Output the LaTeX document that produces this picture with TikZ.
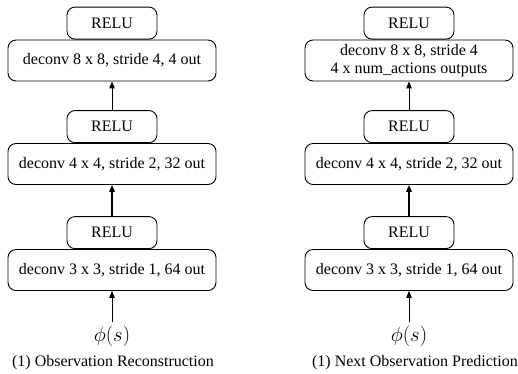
\documentclass[tikz,border=0pt]{standalone}
\usepackage[no-math]{fontspec}
\setmainfont{Liberation Serif}
\usetikzlibrary{arrows.meta}
\tikzset{
  box/.style={draw, line width=0.9pt, rounded corners=8pt, inner sep=0pt, align=center,
    font=\fontsize{16}{18}\selectfont},
  relubox/.style={box, minimum width=90pt, minimum height=32pt},
  convbox/.style={box, minimum width=208pt, minimum height=41pt},
  flow/.style={-{Triangle[length=7pt,width=5.5pt]}, line width=1pt},
  thickflow/.style={flow, line width=1.6pt},
  caption/.style={font=\fontsize{16}{18}\selectfont, inner sep=0pt},
  phinode/.style={font=\fontsize{20}{22}\selectfont, inner sep=3pt}
}
\begin{document}
\begin{tikzpicture}[x=1pt,y=-1pt]
\useasboundingbox (0,0) rectangle (518,373);
% left column
\node[convbox] (l8) at (112,60.5) {deconv 8 x 8, stride 4, 4 out};
\node[relubox, anchor=south] (lr1) at (l8.north) {RELU};
\node[convbox] (l4) at (112,164) {deconv 4 x 4, stride 2, 32 out};
\node[relubox, anchor=south] (lr2) at (l4.north) {RELU};
\node[convbox] (l3) at (112,270) {deconv 3 x 3, stride 1, 64 out};
\node[relubox, anchor=south] (lr3) at (l3.north) {RELU};
\node[phinode] (lphi) at (112,336) {$\phi(s)$};
\node[caption] (lcap) at (113,363) {(1) Observation Reconstruction};
\draw[flow] (lr2.north) -- (l8.south);
\draw[thickflow] (lr3.north) -- (l4.south);
\draw[flow] (lphi.north) -- (l3.south);
% right column
\node[convbox] (r8) at (409,60.5) {deconv 8 x 8, stride 4\\4 x num\_actions outputs};
\node[relubox, anchor=south] (rr1) at (r8.north) {RELU};
\node[convbox] (r4) at (409,164) {deconv 4 x 4, stride 2, 32 out};
\node[relubox, anchor=south] (rr2) at (r4.north) {RELU};
\node[convbox] (r3) at (409,270) {deconv 3 x 3, stride 1, 64 out};
\node[relubox, anchor=south] (rr3) at (r3.north) {RELU};
\node[phinode] (rphi) at (409,336) {$\phi(s)$};
\node[caption] (rcap) at (415,363) {(1) Next Observation Prediction};
\draw[flow] (rr2.north) -- (r8.south);
\draw[thickflow] (rr3.north) -- (r4.south);
\draw[flow] (rphi.north) -- (r3.south);
\end{tikzpicture}
\end{document}
